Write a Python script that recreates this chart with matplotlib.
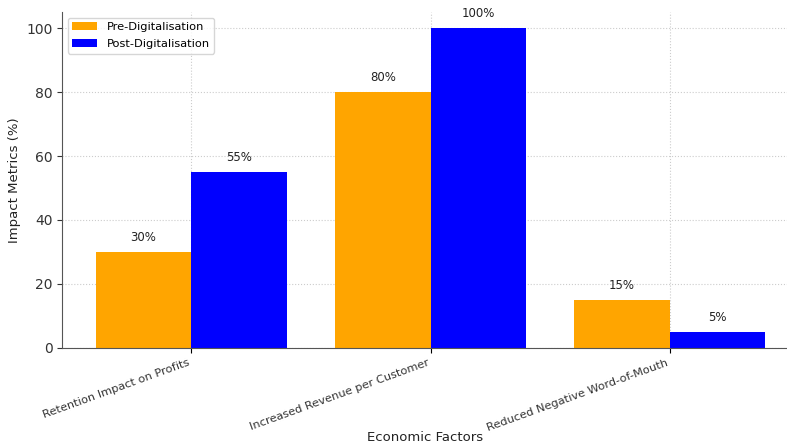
import numpy as np
import matplotlib.pyplot as plt

factors = ['Retention Impact on Profits', 'Increased Revenue per Customer',
           'Reduced Negative Word-of-Mouth']
pre_vals = [30, 80, 15]
post_vals = [55, 100, 5]

fig = plt.figure(figsize=(7.87, 4.45), dpi=100)
ax = fig.add_axes([0.079, 0.218, 0.921, 0.755])

x = np.arange(len(factors))
w = 0.4
b1 = ax.bar(x - w / 2, pre_vals, w, color='orange', label='Pre-Digitalisation', zorder=2)
b2 = ax.bar(x + w / 2, post_vals, w, color='blue', label='Post-Digitalisation', zorder=2)

for bars in (b1, b2):
    for b in bars:
        ax.text(b.get_x() + b.get_width() / 2, b.get_height() + 2.5, f'{int(b.get_height())}%',
                ha='center', va='bottom', fontsize=8.5, color='#222222')

ax.set_xticks(x)
ax.set_xticklabels(factors, rotation=20, ha='right', fontsize=8.2, color='#333333')
ax.set_xlim(-0.54, 2.49)
ax.set_ylim(0, 105)
ax.set_yticks([0, 20, 40, 60, 80, 100])
ax.tick_params(axis='y', labelsize=10, colors='#333333')
ax.set_xlabel('Economic Factors', fontsize=9.5, color='#222222', va='center')
ax.xaxis.set_label_coords(0.5, -0.265)
ax.set_ylabel('Impact Metrics (%)', fontsize=9.5, color='#222222')
ax.grid(True, linestyle=':', color='#cccccc', zorder=0)
ax.spines['top'].set_visible(False)
ax.spines['right'].set_visible(False)
ax.spines['left'].set_color('#555555')
ax.spines['bottom'].set_color('#555555')
ax.legend(loc='upper left', fontsize=8.2, handlelength=2.2, labelspacing=0.6)

fig.savefig('out.png', dpi=100)
